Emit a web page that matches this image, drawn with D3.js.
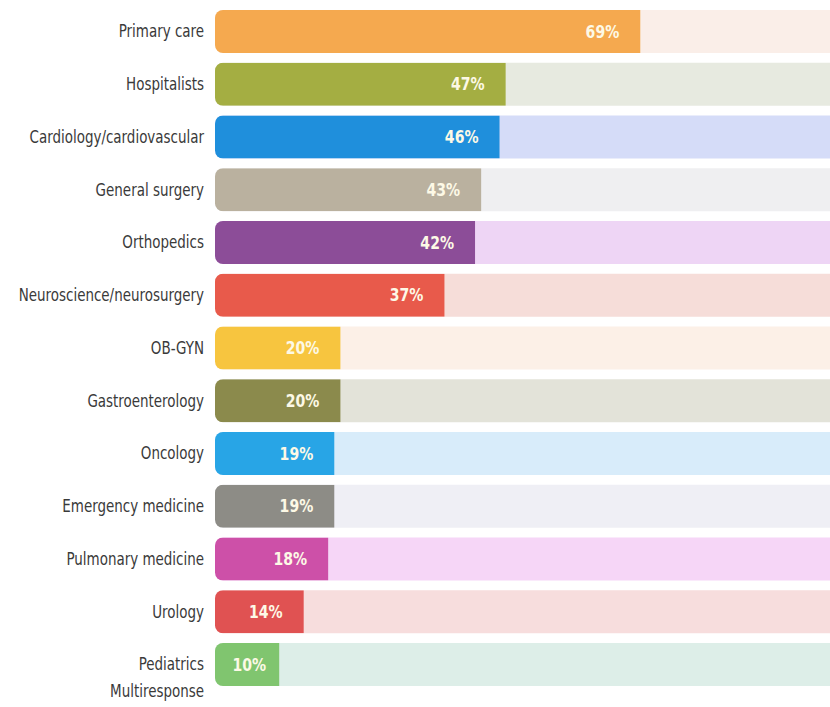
<!DOCTYPE html>
<html>
<head>
<meta charset="utf-8">
<script src="https://cdn.jsdelivr.net/npm/d3@7/dist/d3.min.js"></script>
<style>
  html, body { margin: 0; padding: 0; background: #ffffff; }
  svg { display: block; }
  .lbl { font-family: 'DejaVu Sans', sans-serif; font-stretch: condensed; }
</style>
</head>
<body>
<svg id="chart" width="830" height="707"></svg>
<script>
const categories = [
  "Primary care", "Hospitalists", "Cardiology/cardiovascular", "General surgery",
  "Orthopedics", "Neuroscience/neurosurgery", "OB-GYN", "Gastroenterology",
  "Oncology", "Emergency medicine", "Pulmonary medicine", "Urology", "Pediatrics"
];
const values = [69, 47, 46, 43, 42, 37, 20, 20, 19, 19, 18, 14, 10];
const fillColors = [
  "#f5a94f", "#a4ae42", "#1f8fdc", "#bab19f", "#8c4d98", "#e85a4b", "#f7c53f",
  "#8b8a4c", "#28a5e6", "#8d8c86", "#cd50a8", "#e05252", "#80c56f"
];
const trackColors = [
  "#faeee8", "#e7eae0", "#d5dcf8", "#efeff1", "#eed5f5", "#f6ddd9", "#fcf0e7",
  "#e3e3d9", "#d8ecfa", "#efeff5", "#f6d6f7", "#f7dddd", "#ddeee8"
];
const footnote = "Multiresponse";

const svg = d3.select("#chart");
const x = d3.scaleLinear().domain([0, 100]).range([218, 830]);
const y = d3.scaleBand().domain(categories).range([10, 686]).paddingInner(0.185).paddingOuter(0);
const x0 = 215, r = 8;
const sx = 0.88;

const defs = svg.append("defs");
categories.forEach((c, i) => {
  defs.append("clipPath").attr("id", "clip" + i)
    .append("rect")
    .attr("x", x0).attr("y", y(c))
    .attr("width", 900 - x0).attr("height", y.bandwidth())
    .attr("rx", r).attr("ry", r);
});

const rows = svg.selectAll("g.row").data(categories).join("g").attr("class", "row");

rows.append("rect")
  .attr("x", x0).attr("y", d => y(d))
  .attr("width", 900 - x0).attr("height", y.bandwidth())
  .attr("rx", r).attr("ry", r)
  .attr("fill", (d, i) => trackColors[i]);

rows.append("rect")
  .attr("clip-path", (d, i) => "url(#clip" + i + ")")
  .attr("x", x0).attr("y", d => y(d))
  .attr("width", (d, i) => x(values[i]) - x0).attr("height", y.bandwidth())
  .attr("fill", (d, i) => fillColors[i]);

rows.append("text")
  .attr("class", "lbl")
  .attr("transform", d => `translate(204,${y(d) + y.bandwidth() / 2}) scale(${sx},1)`)
  .attr("dy", "0.35em")
  .attr("text-anchor", "end")
  .attr("font-size", 17)
  .attr("fill", "#3a3a3a")
  .text(d => d);

rows.append("text")
  .attr("class", "lbl")
  .attr("transform", (d, i) => `translate(${x(values[i]) - (values[i] < 12 ? 13 : 21)},${y(d) + y.bandwidth() / 2}) scale(0.92,1)`)
  .attr("dy", "0.36em")
  .attr("text-anchor", "end")
  .attr("font-weight", "bold")
  .attr("font-size", 17)
  .attr("fill", "#fdf9e6")
  .text((d, i) => values[i] + "%");

svg.append("text")
  .attr("class", "lbl")
  .attr("transform", `translate(204,691) scale(${sx},1)`)
  .attr("dy", "0.35em")
  .attr("text-anchor", "end")
  .attr("font-size", 17)
  .attr("fill", "#3a3a3a")
  .text(footnote);
</script>
</body>
</html>
